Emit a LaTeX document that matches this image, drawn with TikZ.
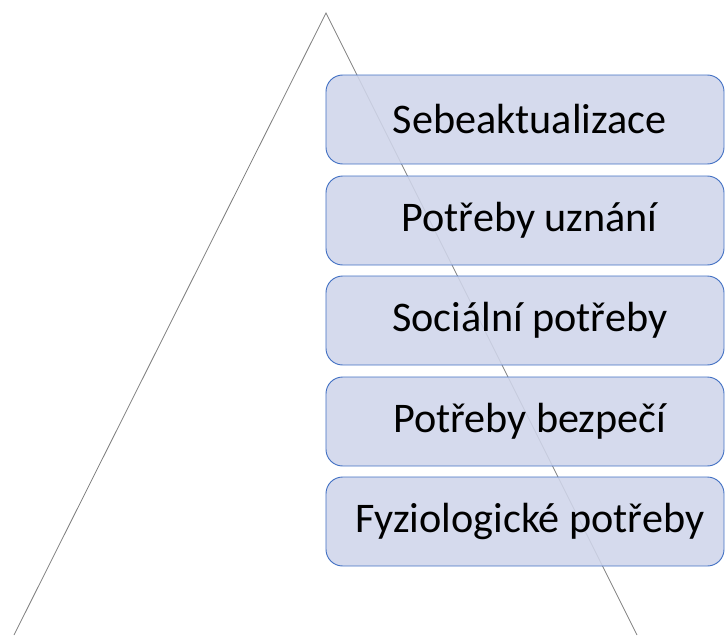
\documentclass[tikz,border=0pt]{standalone}
\usepackage{fontspec}
\setmainfont{Carlito}
\definecolor{boxfill}{RGB}{207,213,234}
\definecolor{boxline}{RGB}{68,114,196}

\begin{document}
\begin{tikzpicture}[
x=0.03cm, y=-0.03cm,
every node/.style={
draw=boxline,
line width=0.8pt,
fill=boxfill,
fill opacity=0.88,
text opacity=1,
rounded corners=0.5cm,
align=center,
minimum width=11.94cm,
minimum height=2.67cm,
inner sep=0pt,
font=\fontsize{36}{43}\selectfont
}
]

\useasboundingbox (0,0) rectangle (725,635);

\coordinate (T) at (326,13);
\coordinate (L) at (14,635);
\coordinate (R) at (637,635);

\draw[gray, line width=0.7pt] (L) -- (T) -- (R);

\node (S) at (525,119.5)
{\hspace{8pt}Sebeaktualizace};

\node (U) at (525,220.5)
{\hspace{8pt}Potřeby uznání};

\node (So) at (525,320.5)
{\hspace{8pt}Sociální potřeby};

\node (B) at (525,421.5)
{\hspace{8pt}Potřeby bezpečí};

\node (F) at (525,521.5)
{\hspace{8pt}Fyziologické potřeby};

\end{tikzpicture}
\end{document}
